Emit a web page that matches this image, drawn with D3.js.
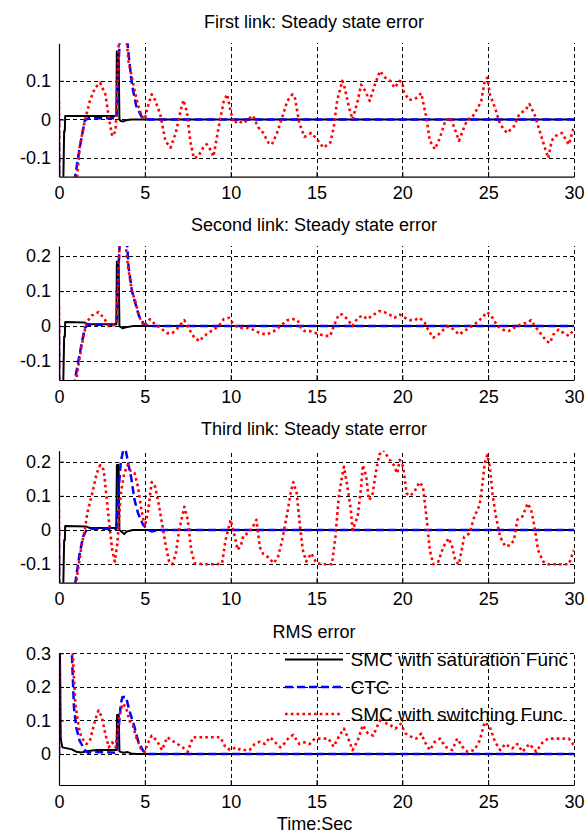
<!DOCTYPE html>
<html>
<head>
<meta charset="utf-8">
<script src="https://cdn.jsdelivr.net/npm/d3@7"></script>
<style>
  html, body { margin: 0; padding: 0; background: #fff; }
  svg { display: block; }
  text { font-family: "Liberation Sans", Arial, Helvetica, sans-serif; fill: #000; }
</style>
</head>
<body>
<svg id="chart" width="587" height="836"></svg>
<script>
// ---- data: error traces over time [t (s), value] ----
const timeTicks = [0, 5, 10, 15, 20, 25, 30];
const panelTitles = [
  "First link: Steady state error",
  "Second link: Steady state error",
  "Third link: Steady state error",
  "RMS error"
];
const seriesNames = ["SMC with saturation Func", "CTC", "SMC with switching Func"];

const link1Sat = [[0,0],[0.02,-0.5],[0.12,-0.5],[0.3,-0.03],[0.34,-0.03],[0.36,0.009],[3.34,0.009],[3.37,0.176],[3.47,0.176],[3.52,0.0],[3.6,-0.004],[3.75,-0.005],[3.9,-0.002],[4.2,0],[30,0]];
const link1Ctc = [[0,0],[0.03,-0.5],[0.7,-0.5],[0.93,-0.15],[1.2,-0.075],[1.5,-0.003],[1.7,0.003],[3.35,0.003],[3.45,0.12],[3.55,0.22],[3.7,0.26],[3.9,0.24],[4.05,0.17],[4.25,0.09],[4.5,0.035],[4.8,0.008],[5.2,0],[30,0]];
const link1Sw = [[0,0.047],[0.03,-0.5],[0.75,-0.5],[1.05,-0.15],[1.2,-0.073],[1.5,-0.003],[1.8,0.048],[2.1,0.082],[2.4,0.095],[2.7,0.065],[2.9,0.005],[3.1,-0.043],[3.3,-0.03],[3.4,0.1],[3.5,0.22],[3.85,0.25],[4.05,0.15],[4.25,0.108],[4.45,0.065],[4.65,0.03],[4.85,0.005],[5.0,0.0],[5.15,0.03],[5.4,0.065],[5.6,0.05],[5.9,0.013],[6.2,-0.056],[6.5,-0.073],[6.8,-0.035],[7.1,0.025],[7.25,0.05],[7.45,0.02],[7.65,-0.056],[7.85,-0.1],[8.1,-0.096],[8.4,-0.073],[8.6,-0.064],[8.8,-0.077],[9.0,-0.096],[9.3,-0.02],[9.6,0.048],[9.8,0.065],[10.0,0.02],[10.2,-0.01],[10.4,-0.003],[10.75,-0.01],[11.0,0.0],[11.3,0.01],[11.6,-0.02],[11.9,-0.035],[12.2,-0.06],[12.4,-0.065],[12.7,-0.035],[13.0,0.005],[13.3,0.048],[13.6,0.065],[13.75,0.055],[14.0,-0.01],[14.3,-0.045],[14.7,-0.035],[15.1,-0.055],[15.4,-0.073],[15.8,-0.06],[16.0,-0.022],[16.2,0.048],[16.5,0.1],[16.6,0.09],[16.9,0.03],[17.1,0.0],[17.4,0.048],[17.6,0.09],[17.8,0.077],[18.1,0.048],[18.4,0.09],[18.7,0.125],[19.0,0.108],[19.3,0.1],[19.55,0.082],[19.85,0.1],[20.0,0.095],[20.1,0.07],[20.4,0.05],[20.8,0.055],[21.1,0.068],[21.4,0.005],[21.6,-0.055],[21.9,-0.077],[22.2,-0.046],[22.5,-0.004],[22.8,0.005],[23.1,-0.03],[23.3,-0.055],[23.6,-0.02],[23.8,0.0],[24.1,0.008],[24.4,0.03],[24.6,0.048],[24.8,0.1],[24.95,0.108],[25.1,0.065],[25.4,0.03],[25.7,-0.013],[26.1,-0.035],[26.5,-0.018],[26.8,0.013],[27.2,0.026],[27.4,0.04],[27.7,0.013],[28.0,-0.03],[28.3,-0.073],[28.5,-0.1],[28.7,-0.055],[28.9,-0.043],[29.3,-0.035],[29.7,-0.065],[30.0,-0.017]];

const link2Sat = [[0,0],[0.02,-0.5],[0.12,-0.5],[0.3,-0.03],[0.34,-0.03],[0.36,0.012],[1.5,0.01],[1.7,0.005],[3.34,0.005],[3.37,0.184],[3.47,0.184],[3.52,0.0],[3.7,-0.006],[3.9,-0.003],[4.3,0],[30,0]];
const link2Ctc = [[0,0],[0.03,-0.5],[0.7,-0.5],[0.93,-0.154],[1.2,-0.08],[1.5,-0.006],[1.7,0.004],[3.35,0.004],[3.45,0.15],[3.55,0.25],[3.75,0.3],[3.95,0.25],[4.05,0.17],[4.25,0.1],[4.45,0.065],[4.65,0.03],[4.95,0.005],[5.3,0],[30,0]];
const link2Sw = [[0,0.055],[0.03,-0.5],[0.75,-0.5],[1.0,-0.154],[1.3,-0.06],[1.6,0.01],[1.9,0.03],[2.3,0.04],[2.6,0.024],[2.9,0.0],[3.2,0.003],[3.35,0.01],[3.45,0.15],[3.55,0.25],[3.8,0.28],[3.95,0.2],[4.05,0.16],[4.25,0.1],[4.45,0.07],[4.65,0.03],[4.95,0.0],[5.3,0.02],[5.6,0.005],[5.9,-0.005],[6.3,-0.02],[6.6,-0.02],[6.9,-0.006],[7.3,0.017],[7.6,-0.01],[7.9,-0.034],[8.2,-0.043],[8.4,-0.03],[8.7,-0.02],[9.0,-0.01],[9.3,0.0],[9.6,0.02],[9.9,0.024],[10.2,0.003],[10.5,-0.005],[11.0,-0.005],[11.3,-0.01],[11.7,-0.02],[12.1,-0.024],[12.5,-0.015],[12.9,0.0],[13.3,0.017],[13.65,0.02],[13.9,0.017],[14.1,-0.005],[14.3,-0.014],[14.6,-0.014],[14.95,-0.02],[15.2,-0.024],[15.5,-0.028],[15.8,-0.028],[16.0,0.0],[16.3,0.033],[16.5,0.033],[16.8,0.02],[17.1,0.0],[17.4,0.024],[17.7,0.03],[17.95,0.02],[18.25,0.03],[18.65,0.043],[18.95,0.04],[19.25,0.033],[19.55,0.024],[19.85,0.033],[20.15,0.024],[20.45,0.017],[20.7,0.017],[21.0,0.024],[21.3,0.01],[21.5,-0.01],[21.8,-0.033],[22.1,-0.024],[22.4,-0.01],[22.7,0.0],[23.0,-0.01],[23.3,-0.024],[23.6,-0.014],[23.9,-0.005],[24.2,0.005],[24.5,0.017],[24.75,0.03],[24.95,0.04],[25.25,0.024],[25.55,0.0],[25.85,-0.01],[26.2,-0.014],[26.5,-0.005],[26.9,0.005],[27.3,0.01],[27.5,0.017],[27.8,-0.005],[28.1,-0.024],[28.4,-0.043],[28.6,-0.048],[28.8,-0.024],[29.1,-0.01],[29.4,-0.02],[29.7,-0.028],[30.0,-0.01]];

const link3Sat = [[0,0],[0.02,-0.5],[0.12,-0.5],[0.3,-0.03],[0.34,-0.03],[0.36,0.012],[1.6,0.01],[1.8,0.006],[3.34,0.006],[3.37,0.19],[3.47,0.19],[3.52,0.0],[3.65,-0.005],[3.8,-0.012],[3.95,-0.004],[4.3,0],[30,0]];
const link3Ctc = [[0,0],[0.03,-0.5],[0.75,-0.5],[0.95,-0.154],[1.2,-0.07],[1.4,-0.02],[1.6,0.0],[1.8,0.004],[3.35,0.004],[3.45,0.1],[3.6,0.2],[3.75,0.235],[3.9,0.23],[4.05,0.19],[4.2,0.155],[4.4,0.088],[4.6,0.05],[4.9,0.015],[5.2,0.0],[5.4,-0.004],[5.8,0],[30,0]];
const link3Sw = [[0,0.059],[0.03,-0.5],[0.8,-0.5],[1.0,-0.154],[1.3,-0.05],[1.5,0.0],[1.65,0.05],[1.9,0.1],[2.2,0.166],[2.4,0.19],[2.6,0.176],[2.75,0.107],[2.9,0.03],[3.1,-0.058],[3.25,-0.092],[3.4,-0.04],[3.6,0.107],[3.8,0.166],[4.0,0.19],[4.2,0.17],[4.4,0.166],[4.6,0.127],[4.8,0.059],[5.0,0.01],[5.2,0.059],[5.4,0.14],[5.6,0.127],[5.8,0.078],[6.0,0.02],[6.2,-0.04],[6.4,-0.09],[6.6,-0.1],[6.8,-0.07],[7.0,0.0],[7.3,0.068],[7.5,0.03],[7.7,-0.058],[7.9,-0.097],[8.4,-0.1],[9.2,-0.1],[9.5,-0.097],[9.7,-0.03],[10.0,0.03],[10.2,-0.01],[10.4,-0.058],[10.6,-0.045],[10.75,-0.015],[11.0,-0.01],[11.3,0.01],[11.5,0.03],[11.7,-0.05],[11.9,-0.07],[12.2,-0.08],[12.5,-0.097],[12.75,-0.08],[13.0,-0.03],[13.3,0.05],[13.5,0.11],[13.65,0.14],[13.85,0.107],[14.04,0.01],[14.2,-0.058],[14.4,-0.092],[14.7,-0.068],[15.0,-0.097],[15.4,-0.1],[15.9,-0.1],[16.1,-0.02],[16.3,0.098],[16.5,0.16],[16.6,0.185],[16.8,0.127],[17.0,0.059],[17.1,0.0],[17.4,0.04],[17.6,0.127],[17.7,0.19],[17.9,0.156],[18.05,0.088],[18.25,0.1],[18.45,0.166],[18.65,0.22],[18.9,0.234],[19.2,0.21],[19.5,0.19],[19.7,0.166],[19.85,0.205],[20.05,0.185],[20.25,0.107],[20.45,0.1],[20.7,0.112],[21.0,0.14],[21.2,0.127],[21.4,0.04],[21.6,-0.058],[21.8,-0.1],[22.1,-0.092],[22.4,-0.048],[22.7,-0.024],[22.9,-0.048],[23.1,-0.092],[23.3,-0.1],[23.6,-0.02],[23.9,-0.01],[24.2,0.04],[24.5,0.073],[24.65,0.127],[24.8,0.195],[24.95,0.22],[25.1,0.185],[25.25,0.107],[25.45,0.04],[25.7,-0.02],[26.0,-0.048],[26.3,-0.044],[26.5,-0.03],[26.7,0.03],[27.0,0.04],[27.3,0.078],[27.5,0.06],[27.7,0.01],[27.9,-0.058],[28.2,-0.092],[28.5,-0.1],[29.7,-0.1],[30.0,-0.058]];

const rmsSat = [[0,0],[0.02,0.45],[0.06,0.3],[0.1,0.05],[0.15,0.03],[0.2,0.02],[0.75,0.014],[1.0,0.007],[1.3,0.005],[1.7,0.009],[2.2,0.012],[3.36,0.012],[3.38,0.116],[3.48,0.116],[3.52,0.008],[3.75,0.004],[4.0,0.006],[4.2,0.002],[4.5,0],[30,0]];
const rmsCtc = [[0,0],[0.02,0.5],[0.6,0.45],[0.75,0.3],[0.87,0.14],[1.0,0.08],[1.2,0.04],[1.5,0.012],[1.7,0.004],[2.0,0.006],[3.0,0.005],[3.35,0.004],[3.45,0.06],[3.6,0.15],[3.7,0.17],[3.9,0.17],[4.1,0.13],[4.4,0.08],[4.6,0.04],[4.9,0.01],[5.2,0.0],[30,0]];
const rmsSw = [[0,0],[0.02,0.5],[0.65,0.45],[0.8,0.3],[0.95,0.15],[1.15,0.08],[1.3,0.05],[1.6,0.03],[1.8,0.04],[2.1,0.1],[2.3,0.13],[2.5,0.11],[2.7,0.06],[2.9,0.02],[3.1,0.035],[3.3,0.02],[3.5,0.11],[3.7,0.15],[3.9,0.14],[4.1,0.1],[4.3,0.085],[4.5,0.05],[4.8,0.012],[5.0,0.005],[5.15,0.03],[5.4,0.055],[5.7,0.04],[6.0,0.012],[6.3,0.05],[6.6,0.04],[6.9,0.03],[7.2,0.02],[7.5,0.007],[7.8,0.05],[8.3,0.05],[8.9,0.05],[9.4,0.05],[9.7,0.02],[10.0,0.012],[10.3,0.02],[10.6,0.012],[11.1,0.012],[11.4,0.03],[11.7,0.037],[12.0,0.03],[12.3,0.05],[12.6,0.035],[12.9,0.02],[13.1,0.03],[13.4,0.05],[13.65,0.057],[14.0,0.03],[14.3,0.035],[14.6,0.03],[14.9,0.046],[15.3,0.046],[15.7,0.046],[16.0,0.022],[16.3,0.052],[16.6,0.076],[16.9,0.04],[17.1,0.012],[17.4,0.04],[17.7,0.086],[18.0,0.061],[18.3,0.055],[18.6,0.09],[18.8,0.11],[19.1,0.09],[19.3,0.086],[19.6,0.076],[19.9,0.09],[20.2,0.061],[20.5,0.052],[20.8,0.046],[21.1,0.061],[21.3,0.037],[21.6,0.012],[21.9,0.037],[22.2,0.046],[22.5,0.022],[22.9,0.012],[23.2,0.046],[23.5,0.022],[23.8,0.007],[24.2,0.012],[24.5,0.04],[24.8,0.095],[25.1,0.08],[25.4,0.037],[25.7,0.012],[26.0,0.03],[26.4,0.017],[26.7,0.03],[27.0,0.007],[27.4,0.03],[27.8,0.007],[28.2,0.037],[28.5,0.046],[29.2,0.046],[29.7,0.046],[30.0,0.026]];

const yTicksLink1 = [-0.1, 0, 0.1];
const yTicksLink23 = [-0.1, 0, 0.1, 0.2];
const yTicksRms = [0, 0.1, 0.2, 0.3];

// ---- layout ----
const svg = d3.select("#chart");
const plotLeft = 59, plotRight = 574;
const fontPx = 18;

const lineStyles = [
  { color: "#000000", width: 2,   dash: null },
  { color: "#0000ff", width: 2.5, dash: "8,4" },
  { color: "#ff0000", width: 2.6, dash: "2.6,3.2" }
];

const panels = [
  { title: panelTitles[0], top: 43.3,  bottom: 176.7, yDomain: [-0.148, 0.197], yTicks: yTicksLink1,  series: [link1Sat, link1Ctc, link1Sw] },
  { title: panelTitles[1], top: 246,   bottom: 380,   yDomain: [-0.154, 0.229], yTicks: yTicksLink23, series: [link2Sat, link2Ctc, link2Sw] },
  { title: panelTitles[2], top: 450.7, bottom: 582.7, yDomain: [-0.154, 0.232], yTicks: yTicksLink23, series: [link3Sat, link3Ctc, link3Sw] },
  { title: panelTitles[3], top: 653.3, bottom: 785,   yDomain: [-0.092, 0.3],   yTicks: yTicksRms,    series: [rmsSat, rmsCtc, rmsSw] }
];

const x = d3.scaleLinear().domain([0, 30]).range([plotLeft, plotRight]);
const tickLabel = d => String(d);

panels.forEach((p, i) => {
  const y = d3.scaleLinear().domain(p.yDomain).range([p.bottom, p.top]);
  const g = svg.append("g");
  const clipId = "clip" + i;
  svg.append("clipPath").attr("id", clipId)
    .append("rect")
    .attr("x", plotLeft).attr("y", p.top)
    .attr("width", plotRight - plotLeft).attr("height", p.bottom - p.top);

  // dashed grid
  const gridX = g.append("g")
    .attr("transform", `translate(0,${p.bottom})`)
    .call(d3.axisBottom(x).tickValues(timeTicks.filter(t => t > 0)).tickSize(-(p.bottom - p.top)).tickFormat(""));
  const gridY = g.append("g")
    .attr("transform", `translate(${plotLeft},0)`)
    .call(d3.axisLeft(y).tickValues(p.yTicks).tickSize(-(plotRight - plotLeft)).tickFormat(""));
  [gridX, gridY].forEach(gr => {
    gr.select(".domain").remove();
    gr.selectAll("line").attr("stroke", "#000").attr("stroke-width", 1).attr("stroke-dasharray", "4,3").attr("shape-rendering", "crispEdges");
  });

  // traces
  const line = d3.line().x(d => x(d[0])).y(d => y(d[1]));
  const traces = g.append("g").attr("clip-path", `url(#${clipId})`);
  p.series.forEach((s, k) => {
    const st = lineStyles[k];
    traces.append("path")
      .datum(s)
      .attr("d", line)
      .attr("fill", "none")
      .attr("stroke", st.color)
      .attr("stroke-width", st.width)
      .attr("stroke-dasharray", st.dash)
      .attr("stroke-linejoin", "round");
  });

  // axes (left and bottom only, inward ticks)
  const ax = g.append("g")
    .attr("transform", `translate(0,${p.bottom})`)
    .call(d3.axisBottom(x).tickValues(timeTicks).tickSize(-5).tickSizeOuter(0).tickPadding(10).tickFormat(tickLabel));
  const ay = g.append("g")
    .attr("transform", `translate(${plotLeft},0)`)
    .call(d3.axisLeft(y).tickValues(p.yTicks).tickSize(-5).tickSizeOuter(0).tickPadding(8).tickFormat(tickLabel));
  [ax, ay].forEach(a => {
    a.attr("font-family", null).attr("font-size", null);
    a.selectAll("text").style("font-size", fontPx + "px");
    a.select(".domain").attr("stroke", "#000").attr("stroke-width", 1.2);
    a.selectAll(".tick line").attr("stroke", "#000").attr("stroke-width", 1);
  });

  // title
  svg.append("text")
    .attr("x", 314).attr("y", p.top - 15.5)
    .attr("text-anchor", "middle")
    .style("font-size", fontPx + "px")
    .text(p.title);
});

// x-axis label
svg.append("text")
  .attr("x", 314.5).attr("y", 830)
  .attr("text-anchor", "middle")
  .style("font-size", fontPx + "px")
  .text("Time:Sec");

// legend inside the RMS panel (no frame, transparent)
const legendRows = [659.5, 687, 714];
const legend = svg.append("g");
seriesNames.forEach((name, k) => {
  const st = lineStyles[k];
  legend.append("line")
    .attr("x1", 285).attr("x2", 343)
    .attr("y1", legendRows[k]).attr("y2", legendRows[k])
    .attr("stroke", st.color)
    .attr("stroke-width", st.width)
    .attr("stroke-dasharray", st.dash);
  legend.append("text")
    .attr("x", 350.5).attr("y", legendRows[k])
    .attr("dy", "0.36em")
    .style("font-size", "19px")
    .text(name);
});
</script>
</body>
</html>
